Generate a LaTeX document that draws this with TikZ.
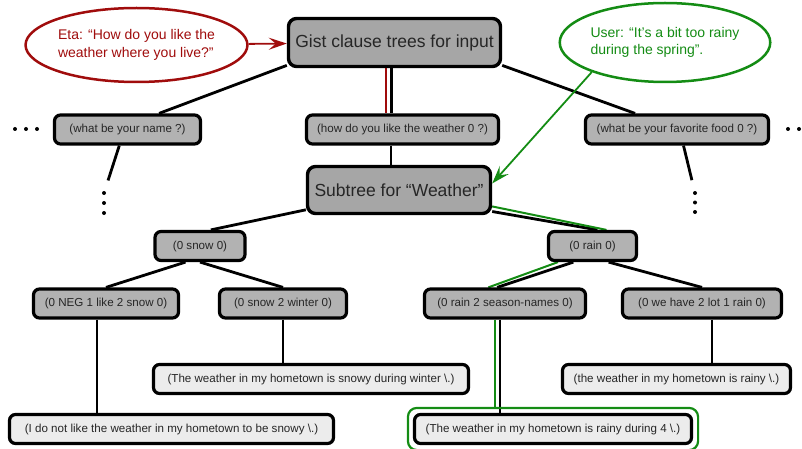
\documentclass[tikz,border=0pt]{standalone}
\usepackage{fontspec}
\setmainfont{Liberation Sans}
\usetikzlibrary{arrows.meta, positioning, backgrounds, fit, calc, shapes.geometric}

\definecolor{etared}{RGB}{160,12,12}
\definecolor{usergreen}{RGB}{20,140,20}
\definecolor{bigfill}{RGB}{166,166,166}
\definecolor{smallfill}{RGB}{178,178,178}
\definecolor{leaffill}{RGB}{236,236,236}

\begin{document}
\begin{tikzpicture}[x=1pt, y=-1pt,
  bigbox/.style={rectangle, draw, rounded corners=8pt, line width=3.4pt, fill=bigfill, text=black!85, font=\fontsize{17.5}{20}\selectfont},
  clausebox/.style={rectangle, draw, rounded corners=6pt, line width=3.2pt, fill=smallfill, text=black!85, minimum height=29pt, font=\fontsize{11.6}{13}\selectfont},
  leafbox/.style={clausebox, fill=leaffill},
  speech/.style={ellipse, draw, line width=2.5pt, fill=white, align=left, inner sep=0pt, font=\fontsize{14}{17.5}\selectfont},
  edge/.style={line width=2.8pt},
  hiedge/.style={line width=2pt},
  dotmark/.style={circle, fill, inner sep=0pt, minimum size=4pt}]
\useasboundingbox (0,0) rectangle (802,449);

% speech bubbles
\node[speech, draw=etared, text=etared, minimum width=199pt, minimum height=74pt] (eta) at (136.5,45) {Eta: “How do you like the\\weather where you live?”};
\node[speech, draw=usergreen, text=usergreen, minimum width=200pt, minimum height=79pt] (user) at (665,42.5) {User: “It’s a bit too rainy\\during the spring”.};

% gist clause trees
\node[bigbox, minimum width=212pt, minimum height=48pt] (gist) at (394.5,42.5) {Gist clause trees for input};
\node[clausebox, minimum width=146pt] (name) at (127.5,129.5) {(what be your name ?)};
\node[clausebox, minimum width=192pt] (how) at (402.5,129.5) {(how do you like the weather 0 ?)};
\node[clausebox, minimum width=183pt] (food) at (677,129.5) {(what be your favorite food 0 ?)};

% weather subtree
\node[bigbox, minimum width=183pt, minimum height=47pt] (sub) at (399,190) {Subtree for “Weather”};
\node[clausebox, minimum width=90pt] (snow) at (200,246) {(0 snow 0)};
\node[clausebox, minimum width=88pt] (rain) at (592.5,246) {(0 rain 0)};
\node[clausebox, minimum width=145pt] (neg) at (106,303.5) {(0 NEG 1 like 2 snow 0)};
\node[clausebox, minimum width=127pt] (winter) at (283,303.5) {(0 snow 2 winter 0)};
\node[clausebox, minimum width=161pt] (season) at (505,303.5) {(0 rain 2 season-names 0)};
\node[clausebox, minimum width=159pt] (wehave) at (702,303.5) {(0 we have 2 lot 1 rain 0)};

% reactions
\node[leafbox, minimum width=315pt] (snowwinter) at (311,379) {(The weather in my hometown is snowy during winter \textbackslash.)};
\node[leafbox, minimum width=324pt] (dislike) at (171.5,429) {(I do not like the weather in my hometown to be snowy \textbackslash.)};
\node[leafbox, minimum width=228pt] (rainy) at (676.5,379) {(the weather in my hometown is rainy \textbackslash.)};
\node[leafbox, minimum width=277pt] (rainyseason) at (553,429) {(The weather in my hometown is rainy during 4 \textbackslash.)};
\node[fit=(rainyseason), draw=usergreen, line width=2.2pt, rounded corners=9pt, inner sep=5pt] (chosen) {};

% dots for the other clauses
\foreach \i/\x in {1/15,2/26,3/37} \node[dotmark] (hl\i) at (\x,129) {};
\foreach \i/\x in {1/788,2/799} \node[dotmark] (hr\i) at (\x,129) {};
\foreach \i/\y in {1/193,2/203,3/213} \node[dotmark] (vl\i) at (104,\y) {};
\foreach \i/\y in {1/193,2/202.5,3/212} \node[dotmark] (vr\i) at (695,\y) {};

\begin{scope}[on background layer]
% tree edges
\draw[edge] (gist.192) -- (name.27);
\draw[edge] (gist.-12) -- (food.159);
\draw[edge] ([xshift=-3pt]gist.south) -- ([xshift=-3pt]gist.south |- how.north);
\draw[hiedge, etared] ([xshift=-8.5pt]gist.south) -- ([xshift=-8.5pt]gist.south |- how.north);
\draw[edge] ([xshift=-11.5pt]how.south) -- ([xshift=-11.5pt]how.south |- sub.north);
\draw[edge, shorten >=11pt] (name.-117) -- (vl1);
\draw[edge, shorten >=11pt] (food.-68) -- (vr1);
\draw[edge] (sub.192) -- (snow.56);
\draw[edge] (sub.-13) -- (rain.73);
\draw[hiedge, usergreen] (sub.-10) -- (rain.49);
\draw[edge] (snow.228) -- (neg.north);
\draw[edge] (snow.south) -- (winter.north);
\draw[edge] (rain.220) -- (season.116);
\draw[hiedge, usergreen] (rain.205) -- (season.136);
\draw[edge] (rain.-45) -- (wehave.north);
\draw[edge] ([xshift=-9pt]neg.south) -- ([xshift=-9pt]neg.south |- dislike.north);
\draw[edge] (winter.south) -- (winter.south |- snowwinter.north);
\draw[edge] ([xshift=-5pt]season.south) -- ([xshift=-5pt]season.south |- rainyseason.north);
\draw[hiedge, usergreen] ([xshift=-10pt]season.south) -- ([xshift=-10pt]season.south |- chosen.north);
\draw[edge] ([xshift=10pt]wehave.south) -- ([xshift=10pt]wehave.south |- rainy.north);
\end{scope}

% utterances
\draw[etared, line width=1.8pt, -{Stealth[length=18pt, width=12pt, inset=7pt]}] (eta) -- (gist);
\draw[usergreen, line width=1.8pt, -{Stealth[length=18pt, width=12pt, inset=7pt]}] (user.202) -- (sub.4);
\end{tikzpicture}
\end{document}
